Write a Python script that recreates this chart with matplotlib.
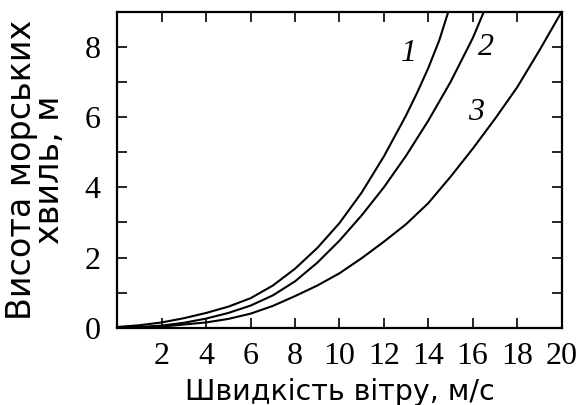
import matplotlib
matplotlib.use("Agg")
import matplotlib.pyplot as plt

# Wind speed (m/s) and wave height (m) for the three curves
speed_1 = [0, 1, 2, 3, 4, 5, 6, 7, 8, 9, 10, 11, 12, 13, 13.5, 14, 14.5, 14.9]
height_1 = [0.02, 0.07, 0.15, 0.27, 0.42, 0.60, 0.84, 1.20, 1.68, 2.27, 2.98, 3.85, 4.88, 6.05, 6.70, 7.40, 8.20, 9.0]

speed_2 = [0, 1, 2, 3, 4, 5, 6, 7, 8, 9, 10, 11, 12, 13, 14, 15, 16, 16.5]
height_2 = [0.0, 0.02, 0.06, 0.14, 0.26, 0.42, 0.63, 0.92, 1.32, 1.85, 2.48, 3.20, 4.00, 4.90, 5.90, 7.00, 8.25, 9.0]

speed_3 = [0, 2, 4, 5, 6, 7, 8, 9, 10, 11, 12, 13, 14, 15, 16, 17, 18, 19, 20]
height_3 = [0.0, 0.03, 0.15, 0.25, 0.40, 0.62, 0.90, 1.20, 1.55, 1.98, 2.45, 2.95, 3.55, 4.30, 5.10, 5.95, 6.85, 7.90, 9.0]

curve_labels = ["1", "2", "3"]
label_pos = [(13.14, 7.83), (16.59, 7.98), (16.16, 6.13)]

x_ticks = [2, 4, 6, 8, 10, 12, 14, 16, 18, 20]
y_major = [0, 2, 4, 6, 8]
y_minor = [1, 3, 5, 7]

SERIF = "Liberation Serif"
SANS = "DejaVu Sans"

fig = plt.figure(figsize=(5.79, 4.05), dpi=100)
ax = fig.add_axes([0.2026, 0.1909, 0.9698 - 0.2026, 0.9704 - 0.1909])

for xs, ys in [(speed_1, height_1), (speed_2, height_2), (speed_3, height_3)]:
    ax.plot(xs, ys, color="black", lw=1.5)

for txt, (lx, ly) in zip(curve_labels, label_pos):
    ax.text(lx, ly, txt, fontsize=23, style="italic", family=SERIF,
            ha="center", va="center")

ax.set_xlim(0, 20)
ax.set_ylim(0, 9)
ax.set_xticks(x_ticks)
ax.set_xticklabels([str(v) for v in x_ticks])
ax.set_yticks(y_major)
ax.set_yticklabels([str(v) for v in y_major])
ax.set_yticks(y_minor, minor=True)

ax.tick_params(axis="both", which="both", direction="in", length=7, width=1.2,
               top=True, right=True)
ax.tick_params(axis="x", which="major", pad=10)
ax.tick_params(axis="y", which="major", pad=12)
for lab in ax.get_xticklabels() + ax.get_yticklabels():
    lab.set_family(SERIF)
    lab.set_fontsize(23)

for sp in ax.spines.values():
    sp.set_linewidth(1.6)

ax.set_xlabel("Швидкість вітру, м/с", family=SANS, fontsize=20.5)
ax.xaxis.set_label_coords(0.5, -0.16)
ax.set_ylabel("Висота морських\nхвиль, м", family=SANS, fontsize=24,
              linespacing=0.8)
ax.yaxis.set_label_coords(-0.115, 0.5)

fig.savefig("out.png", dpi=100)
